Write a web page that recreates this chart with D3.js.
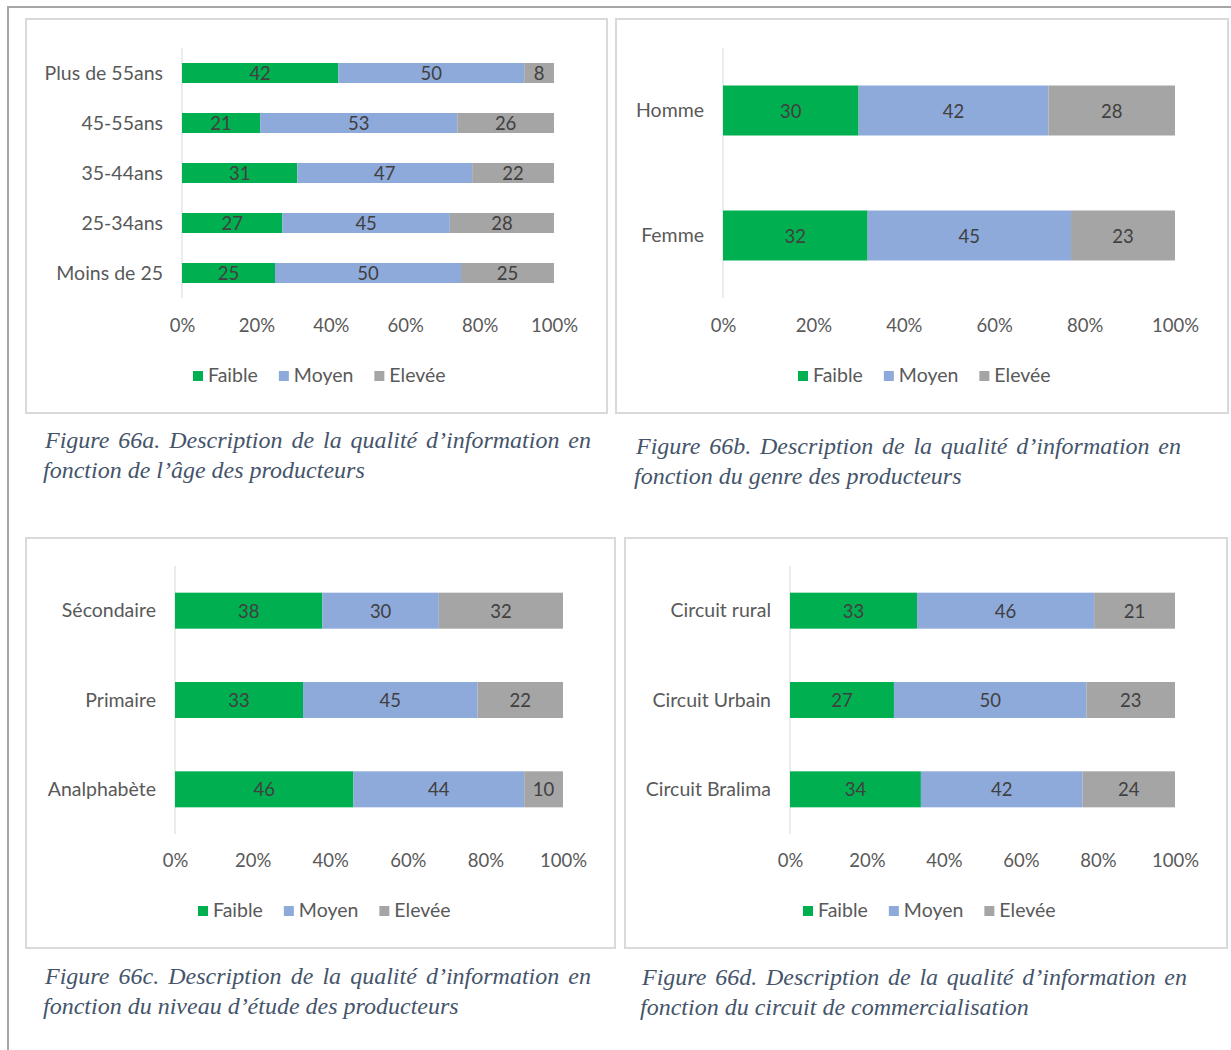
<!DOCTYPE html>
<html><head><meta charset="utf-8">
<script src="https://cdn.jsdelivr.net/npm/d3@7"></script>
<style>
html,body{margin:0;padding:0;background:#fff;}
svg{display:block;}
</style></head>
<body>
<script>
// ---- DATA ----
const seriesNames = ["Faible", "Moyen", "Elevée"];
const seriesColors = ["#00b050", "#8eaadb", "#a5a5a5"];
const tickValues = [0, 20, 40, 60, 80, 100];

const catsA = ["Plus de 55ans", "45-55ans", "35-44ans", "25-34ans", "Moins de 25"];
const faibleA = [42, 21, 31, 27, 25];
const moyenA  = [50, 53, 47, 45, 50];
const eleveeA = [8, 26, 22, 28, 25];

const catsB = ["Homme", "Femme"];
const faibleB = [30, 32];
const moyenB  = [42, 45];
const eleveeB = [28, 23];

const catsC = ["Sécondaire", "Primaire", "Analphabète"];
const faibleC = [38, 33, 46];
const moyenC  = [30, 45, 44];
const eleveeC = [32, 22, 10];

const catsD = ["Circuit rural", "Circuit Urbain", "Circuit Bralima"];
const faibleD = [33, 27, 34];
const moyenD  = [46, 50, 42];
const eleveeD = [21, 23, 24];

const captionA = ["Figure 66a. Description de la qualité d’information en", "fonction de l’âge des producteurs"];
const captionB = ["Figure 66b. Description de la qualité d’information en", "fonction du genre des producteurs"];
const captionC = ["Figure 66c. Description de la qualité d’information en", "fonction du niveau d’étude des producteurs"];
const captionD = ["Figure 66d. Description de la qualité d’information en", "fonction du circuit de commercialisation"];

// ---- DRAW ----
const W = 1231, H = 1050;
const svg = d3.select("body").append("svg").attr("width", W).attr("height", H);
svg.append("rect").attr("width", W).attr("height", H).attr("fill", "#fff");
// outer page frame
svg.append("line").attr("x1", 7).attr("x2", W).attr("y1", 7).attr("y2", 7).attr("stroke", "#a6a6a6").attr("stroke-width", 2);
svg.append("line").attr("x1", 8).attr("x2", 8).attr("y1", 6).attr("y2", H).attr("stroke", "#a6a6a6").attr("stroke-width", 2);

const chartFont = "Lato, 'Open Sans', sans-serif";
const capFont = "'Liberation Serif', 'Times New Roman', serif";
const textGray = "#595959";

function panel(cfg) {
  const {box, x0, x1, yTop, yBot, cats, vals, barH, tickY, legendY, legendX, caption, capX, capX2, capY} = cfg;
  const g = svg.append("g");
  g.append("rect").attr("x", box[0]).attr("y", box[1]).attr("width", box[2]).attr("height", box[3])
    .attr("fill", "#fff").attr("stroke", "#d9d9d9").attr("stroke-width", 2);

  const x = d3.scaleLinear().domain([0, 100]).range([x0, x1]);
  const y = d3.scaleBand().domain(cats).range([yTop, yBot]).paddingInner(cfg.pad).paddingOuter(cfg.pad / 2);

  // axis line at 0
  g.append("line").attr("x1", x0).attr("x2", x0).attr("y1", yTop).attr("y2", yBot).attr("stroke", "#d9d9d9").attr("stroke-width", 1);

  const stacked = d3.stack().keys([0, 1, 2]).value((d, k) => d[k])(cats.map((c, i) => vals.map(v => v[i])));
  stacked.forEach((layer, k) => {
    layer.forEach((seg, i) => {
      const cy = y(cats[i]) + y.bandwidth() / 2;
      g.append("rect").attr("x", x(seg[0])).attr("width", x(seg[1]) - x(seg[0]))
        .attr("y", cy - barH / 2).attr("height", barH).attr("fill", seriesColors[k]);
      g.append("text").attr("x", (x(seg[0]) + x(seg[1])) / 2).attr("y", cy + 7)
        .attr("text-anchor", "middle").attr("font-family", chartFont).attr("font-size", 18.5)
        .attr("fill", "#404040").text(seg[1] - seg[0]);
    });
  });

  // category labels
  const yAxis = d3.axisLeft(y).tickSize(0).tickPadding(19);
  const ya = g.append("g").attr("transform", `translate(${x0},0)`).call(yAxis);
  ya.select(".domain").remove();
  ya.selectAll("text").attr("font-family", chartFont).attr("font-size", 19.5).attr("fill", textGray).attr("dy", "0.35em");

  // x tick labels
  const xAxis = d3.axisBottom(x).tickValues(tickValues).tickSize(0).tickPadding(0).tickFormat(d => d + "%");
  const xa = g.append("g").attr("transform", `translate(0,${tickY})`).call(xAxis);
  xa.select(".domain").remove();
  xa.selectAll("text").attr("font-family", chartFont).attr("font-size", 18.5).attr("fill", textGray).attr("dy", "0.35em");

  // legend
  let lx = legendX;
  seriesNames.forEach((n, k) => {
    g.append("rect").attr("x", lx).attr("y", legendY - 5).attr("width", 10).attr("height", 10).attr("fill", seriesColors[k]);
    const t = g.append("text").attr("x", lx + 15).attr("y", legendY + 6).attr("font-family", chartFont)
      .attr("font-size", 19.5).attr("fill", textGray).text(n);
    lx += 15 + t.node().getComputedTextLength() + 21;
  });

  // caption (first line justified)
  caption.forEach((line, li) => {
    const yy = capY + li * 30;
    const startX = li === 0 ? capX : capX - 2;
    if (li === 0) {
      const words = line.split(" ");
      const tmp = words.map(w => {
        const t = g.append("text").attr("font-family", capFont)
          .attr("font-style", "italic").attr("font-size", 24).attr("fill", "#44546a").attr("y", yy).text(w);
        return [t, t.node().getComputedTextLength()];
      });
      const total = d3.sum(tmp, d => d[1]);
      const gap = (capX2 - startX - total) / (words.length - 1);
      let cx = startX;
      tmp.forEach(([t, w]) => { t.attr("x", cx); cx += w + gap; });
    } else {
      g.append("text").attr("font-family", capFont)
        .attr("font-style", "italic").attr("font-size", 24).attr("fill", "#44546a")
        .attr("x", startX).attr("y", yy).text(line);
    }
  });
}

panel({box: [26, 19, 581, 394], x0: 182, x1: 554, yTop: 48, yBot: 298, pad: 0.6,
  cats: catsA, vals: [faibleA, moyenA, eleveeA], barH: 20, tickY: 326, legendY: 376, legendX: 193,
  caption: captionA, capX: 45, capX2: 591, capY: 448});
panel({box: [616, 19, 612, 394], x0: 723, x1: 1175, yTop: 48, yBot: 298, pad: 0.6,
  cats: catsB, vals: [faibleB, moyenB, eleveeB], barH: 50, tickY: 326, legendY: 376, legendX: 798,
  caption: captionB, capX: 636, capX2: 1181, capY: 454});
panel({box: [26, 538, 589, 410], x0: 175, x1: 563, yTop: 566, yBot: 834, pad: 0.6,
  cats: catsC, vals: [faibleC, moyenC, eleveeC], barH: 36, tickY: 861, legendY: 911, legendX: 198,
  caption: captionC, capX: 45, capX2: 591, capY: 984});
panel({box: [625, 538, 602, 410], x0: 790, x1: 1175, yTop: 566, yBot: 834, pad: 0.6,
  cats: catsD, vals: [faibleD, moyenD, eleveeD], barH: 36, tickY: 861, legendY: 911, legendX: 803,
  caption: captionD, capX: 642, capX2: 1187, capY: 985});
</script>
</body></html>
